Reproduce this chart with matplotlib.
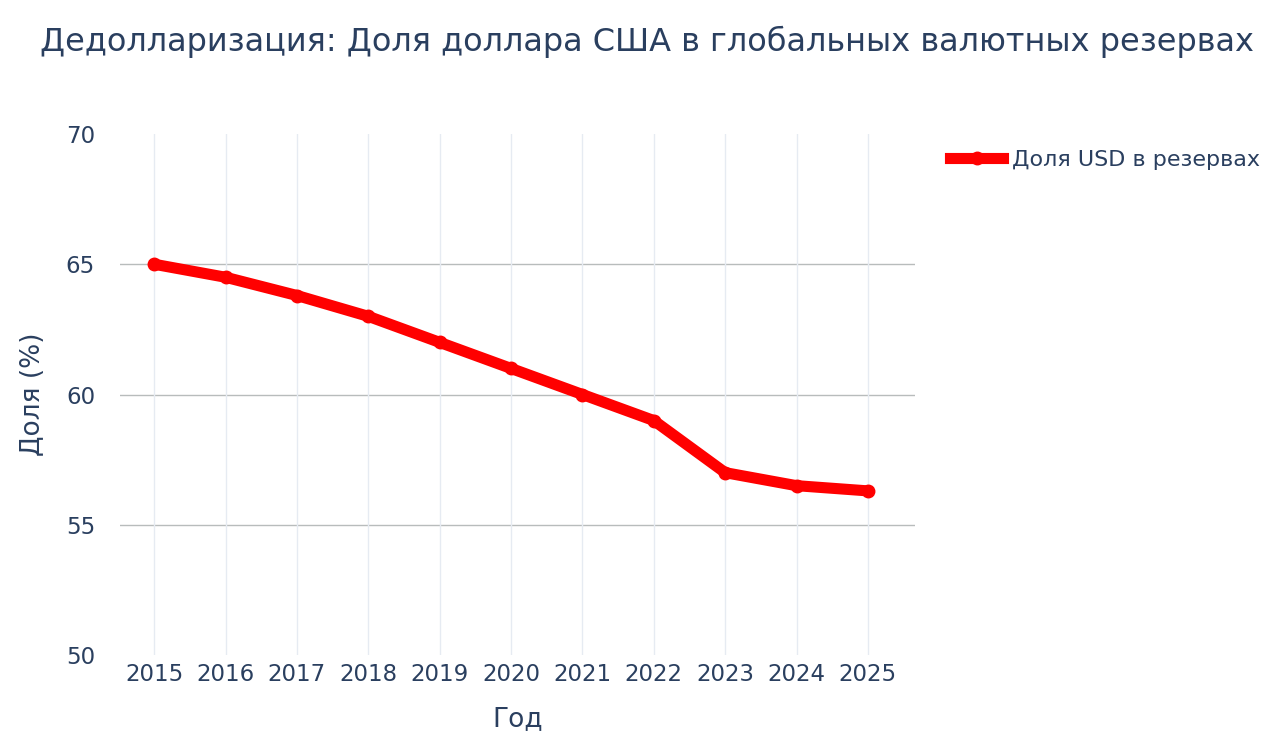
import matplotlib
matplotlib.use("Agg")
import matplotlib.pyplot as plt
from matplotlib.lines import Line2D

plt.rcParams["font.family"] = ["DejaVu Sans"]

years = [2015, 2016, 2017, 2018, 2019, 2020, 2021, 2022, 2023, 2024, 2025]
usd_share = [65.0, 64.5, 63.8, 63.0, 62.0, 61.0, 60.0, 59.0, 57.0, 56.5, 56.3]

text_color = "#2a3f5f"

fig = plt.figure(figsize=(12.8, 7.42), dpi=100)
ax = fig.add_axes([120 / 1280, 1 - 655 / 742, (915 - 120) / 1280, (655 - 134) / 742])

ax.plot(years, usd_share, color="#ff0000", linewidth=8, marker="o", markersize=9,
        solid_joinstyle="round", solid_capstyle="round", zorder=3)

ax.set_xlim(2014.52, 2025.66)
ax.set_ylim(50, 70)
ax.set_xticks(years)
ax.set_yticks([50, 55, 60, 65, 70])
ax.tick_params(axis="both", length=0, labelsize=16.5, colors=text_color)
ax.tick_params(axis="x", pad=6)
ax.tick_params(axis="y", pad=18)

ax.grid(axis="x", color="#e6ebf2", linewidth=1)
for y in [55, 60, 65]:
    ax.axhline(y, color="#b8bcbc", linewidth=1, zorder=1)
for s in ax.spines.values():
    s.set_visible(False)

ax.set_xlabel("Год", fontsize=19, color=text_color, labelpad=14)
ax.set_ylabel("Доля (%)", fontsize=19, color=text_color, labelpad=14)

fig.text(40 / 1280, 1 - 42 / 742, "Дедолларизация: Доля доллара США в глобальных валютных резервах",
         fontsize=23, color=text_color, va="center", ha="left")

handle = Line2D([], [], color="#ff0000", linewidth=8, marker="o", markersize=9)
fig.legend([handle], ["Доля USD в резервах"], loc="center left",
           bbox_to_anchor=(930 / 1280, 1 - 160 / 742), frameon=False,
           fontsize=16, labelcolor=text_color, handlelength=2.4, handletextpad=0.4)

fig.savefig("out.png", dpi=100, facecolor="white")
